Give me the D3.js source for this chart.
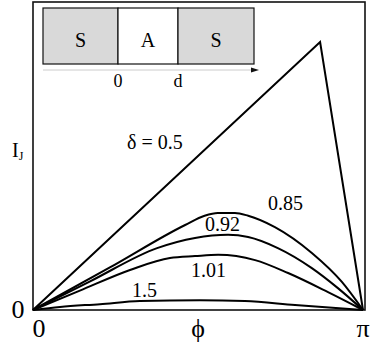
<!DOCTYPE html>
<html><head><meta charset="utf-8">
<script src="https://cdn.jsdelivr.net/npm/d3@7"></script>
<style>body{margin:0;background:#fff}svg{display:block}</style>
</head><body>
<script>
// phase in units of pi, current normalized
const curve050 = [[0,0],[0.87,0.87],[1,0]];
const curve085 = [[0,0],[0.233,0.138],[0.461,0.276],[0.52,0.306],[0.56,0.315],[0.612,0.315],[0.652,0.306],[0.733,0.269],[0.845,0.185],[0.936,0.091],[1,0]];
const curve092 = [[0,0],[0.173,0.093],[0.376,0.201],[0.491,0.234],[0.591,0.244],[0.652,0.237],[0.742,0.201],[0.845,0.136],[0.924,0.071],[1,0]];
const curve101 = [[0,0],[0.142,0.063],[0.294,0.130],[0.415,0.169],[0.491,0.175],[0.561,0.179],[0.673,0.162],[0.773,0.120],[0.894,0.058],[1,0]];
const curve150 = [[0,0],[0.082,0.010],[0.203,0.019],[0.324,0.029],[0.506,0.032],[0.642,0.029],[0.794,0.016],[1,0]];
const curveLabels = [
  {t:"δ = 0.5", x:0.285, y:0.523},
  {t:"0.85", x:0.712, y:0.325},
  {t:"0.92", x:0.521, y:0.256},
  {t:"1.01", x:0.479, y:0.107},
  {t:"1.5", x:0.3, y:0.042}
];
const xTicks = [[0,"0"],[0.5,"ϕ"],[1,"π"]];
const yTicks = [[0,"0"]];
const insetRegions = [["S",0,1],["A",1,2],["S",2,3.25]];
const insetTicks = [[1,"0"],[2,"d"]];

const FONT="'Liberation Serif'";
const W=370,H=344;
const svg=d3.select("body").append("svg").attr("width",W).attr("height",H);
const x=d3.scaleLinear().domain([0,1]).range([33,363]);
const y=d3.scaleLinear().domain([0,1]).range([310,2]);
const txt=(sel)=>sel.append("text").style("font-family",FONT).attr("fill","#000");

// frame
svg.append("rect").attr("x",33).attr("y",2).attr("width",332).attr("height",308)
  .attr("fill","none").attr("stroke","#111").attr("stroke-width",1.6);

// inset
const ixf=d3.scaleLinear().domain([0,1,2,3.25]).range([43,118,178,254]);
const g=svg.append("g");
insetRegions.forEach(([t,a,b])=>{
  g.append("rect").attr("x",ixf(a)).attr("y",8).attr("width",ixf(b)-ixf(a)).attr("height",56)
   .attr("fill",t==="S"?"#d9d9d9":"#fff").attr("stroke","#111").attr("stroke-width",1.2);
  txt(g).attr("x",(ixf(a)+ixf(b))/2).attr("y",47).attr("text-anchor","middle")
   .attr("font-size",20).text(t);
});
g.append("line").attr("x1",43).attr("x2",253).attr("y1",70).attr("y2",70).attr("stroke","#ccc").attr("stroke-width",1);
g.append("path").attr("d","M251,67.5 L259,70 L251,72.5 Z").attr("fill","#111");
insetTicks.forEach(([v,t])=>{
  txt(g).attr("x",ixf(v)).attr("y",87).attr("text-anchor","middle").attr("font-size",18).text(t);
});

// curves
const line=d3.line().x(d=>x(d[0])).y(d=>y(d[1])).curve(d3.curveMonotoneX);
const lineLin=d3.line().x(d=>x(d[0])).y(d=>y(d[1]));
svg.append("path").attr("d",lineLin(curve050)).attr("fill","none").attr("stroke","#000").attr("stroke-width",2).attr("stroke-linejoin","miter");
[curve085,curve092,curve101,curve150].forEach(c=>{
  svg.append("path").attr("d",line(c)).attr("fill","none").attr("stroke","#000").attr("stroke-width",2);
});

curveLabels.forEach(l=>{
  txt(svg).attr("x",x(l.x)).attr("y",y(l.y)).attr("font-size",20).text(l.t);
});

// axis labels
xTicks.forEach(([v,t])=>{
  txt(svg).attr("x",x(v)+(v===0?6:0)).attr("y",337).attr("text-anchor","middle").attr("font-size",26).text(t);
});
yTicks.forEach(([v,t])=>{
  txt(svg).attr("x",18).attr("y",y(v)+8).attr("text-anchor","middle").attr("font-size",26).text(t);
});
const ij=txt(svg).attr("x",12).attr("y",157).attr("font-size",20);
ij.append("tspan").text("I");
ij.append("tspan").attr("font-size",12).attr("dy",3).text("J");
</script>
</body></html>
